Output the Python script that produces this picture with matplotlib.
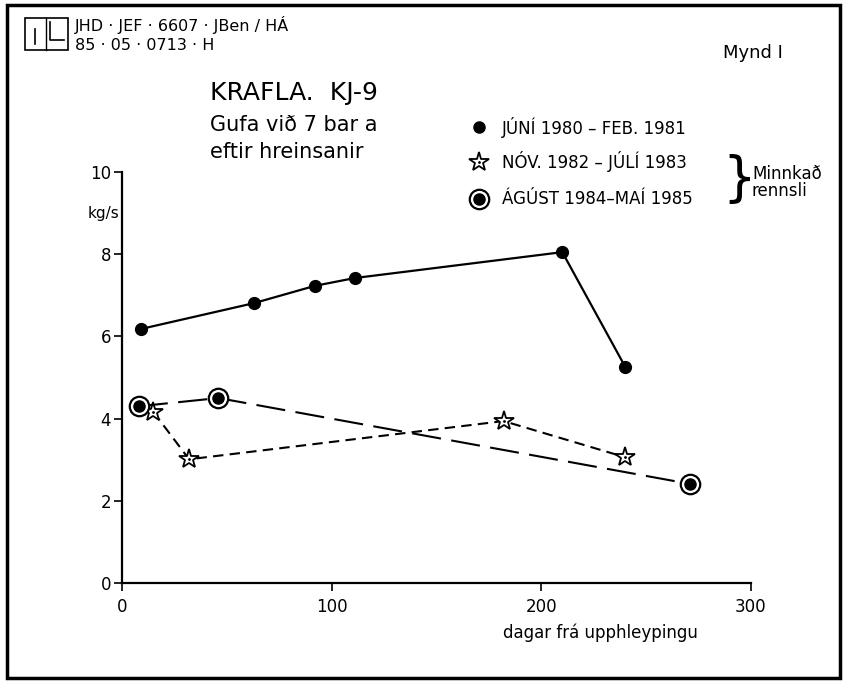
import matplotlib
matplotlib.use("Agg")
import matplotlib.pyplot as plt
import matplotlib.transforms as mtransforms
from matplotlib.lines import Line2D
from matplotlib.patches import Rectangle

# KRAFLA KJ-9, steam at 7 bar after cleaning (days after discharge start)
jun_x = [9, 63, 92, 111, 210, 240]
jun_y = [6.18, 6.81, 7.23, 7.42, 8.05, 5.26]

nov_x = [15, 32, 182, 240]
nov_y = [4.16, 3.01, 3.94, 3.06]

agu_x = [8, 46, 271]
agu_y = [4.30, 4.50, 2.41]

x_ticks = [0, 100, 200, 300]
y_ticks = [0, 2, 4, 6, 8, 10]

legend_labels = ["JÚNÍ 1980 – FEB. 1981",
                 "NÓV. 1982 – JÚLÍ 1983",
                 "ÁGÚST 1984–MAÍ 1985"]

W, H = 845, 684


def fx(px):
    return px / W


def fy(py):
    return 1 - py / H


plt.rcParams["font.family"] = ["DejaVu Sans"]

fig = plt.figure(figsize=(8.45, 6.84), dpi=100)
ax = fig.add_axes([fx(122), fy(583), (751 - 122) / W, (583 - 172) / H])

# series
ax.plot(jun_x, jun_y, color="black", lw=1.6, marker="o", ms=8.5, clip_on=False)

ax.plot(nov_x, nov_y, color="black", lw=1.5, dashes=(5, 3), marker="*", ms=15,
        mfc="white", mec="black", mew=1.3, clip_on=False)
ax.plot(nov_x, nov_y, ls="none", marker=".", ms=2, color="black")

ax.plot(agu_x, agu_y, color="black", lw=1.5, dashes=(14, 5), marker="o", ms=14,
        mfc="white", mec="black", mew=1.6, clip_on=False)
ax.plot(agu_x, agu_y, ls="none", marker="o", ms=8, color="black", clip_on=False)

ax.set_xlim(0, 300)
ax.set_ylim(0, 10)
ax.set_xticks(x_ticks)
ax.set_yticks(y_ticks)
ax.spines[["top", "right"]].set_visible(False)
ax.spines[["left", "bottom"]].set_linewidth(1.6)
ax.tick_params(direction="out", length=6, width=1.2, labelsize=12)
ax.tick_params(axis="x", pad=5)
ax.tick_params(axis="y", pad=2)

blend = mtransforms.blended_transform_factory(ax.transAxes, ax.transData)
ax.text(-0.004, 9.0, "kg/s", transform=blend, ha="right", va="center", fontsize=11)

fig.text(fx(600), fy(633), "dagar frá upphleypingu", ha="center", va="center", fontsize=12)

# titles
fig.text(fx(210), fy(93), "KRAFLA.  KJ-9", fontsize=18, va="center")
fig.text(fx(210), fy(125), "Gufa við 7 bar a", fontsize=15, va="center")
fig.text(fx(210), fy(152), "eftir hreinsanir", fontsize=15, va="center")
fig.text(fx(723), fy(53), "Mynd I", fontsize=13, va="center")

# stamp in the corner
fig.text(fx(75), fy(25), "JHD · JEF · 6607 · JBen / HÁ", fontsize=11.5, va="center")
fig.text(fx(75), fy(45), "85 · 05 · 0713 · H", fontsize=11.5, va="center")
ft = fig.transFigure
fig.add_artist(Rectangle((fx(25), fy(50)), fx(68) - fx(25), fy(18) - fy(50),
                         fill=False, lw=1.2, transform=ft))
fig.add_artist(Line2D([fx(46), fx(46)], [fy(18), fy(50)], color="black", lw=1.0, transform=ft))
fig.add_artist(Line2D([fx(35), fx(35)], [fy(29), fy(44)], color="black", lw=1.2, transform=ft))
fig.add_artist(Line2D([fx(50), fx(50), fx(64)], [fy(22), fy(40), fy(40)], color="black", lw=1.2, transform=ft))

# legend, drawn by hand
rows = [127, 162, 199]
fig.add_artist(Line2D([fx(479)], [fy(rows[0])], marker="o", ms=8, color="black", transform=ft))
fig.add_artist(Line2D([fx(479)], [fy(rows[1])], marker="*", ms=15, mfc="white", mec="black",
                      mew=1.3, transform=ft))
fig.add_artist(Line2D([fx(479)], [fy(rows[1])], marker=".", ms=2, color="black", transform=ft))
fig.add_artist(Line2D([fx(479)], [fy(rows[2])], marker="o", ms=14, mfc="white", mec="black",
                      mew=1.6, transform=ft))
fig.add_artist(Line2D([fx(479)], [fy(rows[2])], marker="o", ms=8, color="black", transform=ft))
for r, lab in zip(rows, legend_labels):
    fig.text(fx(502), fy(r), lab, fontsize=12, va="center")

fig.text(fx(722), fy(180), "}", fontsize=38, va="center", ha="left")
fig.text(fx(752), fy(174), "Minnkað", fontsize=12, va="center")
fig.text(fx(752), fy(191), "rennsli", fontsize=12, va="center")

# frame round the sheet
fig.add_artist(Rectangle((fx(7), fy(678)), fx(840) - fx(7), fy(5) - fy(678),
                         fill=False, lw=2.5, transform=ft))

fig.savefig("out.png", dpi=100)
